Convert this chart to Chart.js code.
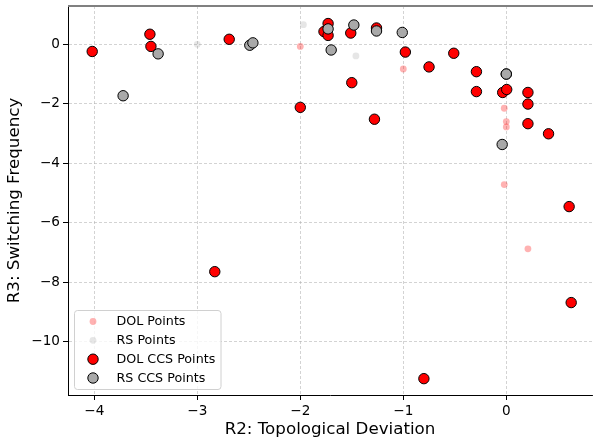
<!DOCTYPE html>
<html>
<head>
<meta charset="utf-8">
<script src="https://cdn.jsdelivr.net/npm/chart.js@4/dist/chart.umd.min.js"></script>
<style>
  html, body { margin: 0; padding: 0; background: #fff; }
  #wrap { width: 593px; height: 441px; }
</style>
</head>
<body>
<div id="wrap"><canvas id="c" width="593" height="441"></canvas></div>
<script>
// ---- data ----
const dolX = [-2.00, -1.00, -0.02, 0.00, 0.00, -0.02, 0.21];
const dolY = [-0.07, -0.83, -2.15, -2.60, -2.78, -4.72, -6.88];

const rsX = [-3.00, -1.97, -1.46];
const rsY = [0.00, 0.66, -0.39];

const dolCcsX = [-4.02, -3.46, -3.45, -2.69, -2.00, -1.73, -1.77, -1.73, -1.51, -1.26,
                 -0.98, -0.75, -1.50, -1.28, -0.51, -0.29, -0.29, -0.035, 0.004, 0.21,
                 0.21, 0.21, 0.41, 0.61, 0.63, -2.83, -0.80];
const dolCcsY = [-0.24, 0.34, -0.07, 0.17, -2.12, 0.70, 0.43, 0.30, 0.38, 0.55,
                 -0.26, -0.76, -1.29, -2.52, -0.30, -0.92, -1.59, -1.62, -1.52, -1.62,
                 -2.01, -2.67, -3.01, -5.46, -8.69, -7.65, -11.25];

const rsCcsX = [-3.72, -3.38, -2.49, -2.46, -1.73, -1.48, -1.26, -1.01, -1.70, 0.00, 0.00, -0.04];
const rsCcsY = [-1.73, -0.32, -0.03, 0.05, 0.52, 0.65, 0.45, 0.40, -0.19, -1.00, -1.00, -3.37];

const xTicks = [-4, -3, -2, -1, 0];
const yTicks = [0, -2, -4, -6, -8, -10];
const xTitle = 'R2: Topological Deviation';
const yTitle = 'R3: Switching Frequency';
const legendLabels = ['DOL Points', 'RS Points', 'DOL CCS Points', 'RS CCS Points'];

// ---- build ----
const pts = (xs, ys) => xs.map((x, i) => ({ x: x, y: ys[i] }));
const FONT = "'DejaVu Sans', sans-serif";
const fmt = v => (v < 0 ? '\u2212' + Math.abs(v) : String(v));

const styles = [
  { bg: 'rgba(255,0,0,0.3)', border: 'rgba(0,0,0,0)', bw: 0, r: 3.4 },
  { bg: 'rgba(128,128,128,0.2)', border: 'rgba(0,0,0,0)', bw: 0, r: 3.4 },
  { bg: '#ff0000', border: '#000000', bw: 1, r: 5.2 },
  { bg: '#a9a9a9', border: '#000000', bw: 1, r: 5.2 }
];

const datasets = [
  { label: legendLabels[0], data: pts(dolX, dolY), order: 4 },
  { label: legendLabels[1], data: pts(rsX, rsY), order: 3 },
  { label: legendLabels[2], data: pts(dolCcsX, dolCcsY), order: 2 },
  { label: legendLabels[3], data: pts(rsCcsX, rsCcsY), order: 1 }
].map((d, i) => Object.assign(d, {
  backgroundColor: styles[i].bg,
  borderColor: styles[i].border,
  borderWidth: styles[i].bw,
  pointRadius: styles[i].r,
  pointHoverRadius: styles[i].r
}));

const framePlugin = {
  id: 'frame',
  afterDraw(chart) {
    const { ctx, chartArea: a } = chart;
    ctx.save();
    ctx.strokeStyle = '#808080';
    ctx.lineWidth = 2;
    ctx.beginPath();
    ctx.moveTo(a.left, a.top);
    ctx.lineTo(a.right + 1, a.top);
    ctx.stroke();
    const lx = 74.5, ly = 310.5, lw = 146.5, lh = 79, rr = 3;
    ctx.beginPath();
    ctx.moveTo(lx + rr, ly);
    ctx.lineTo(lx + lw - rr, ly);
    ctx.quadraticCurveTo(lx + lw, ly, lx + lw, ly + rr);
    ctx.lineTo(lx + lw, ly + lh - rr);
    ctx.quadraticCurveTo(lx + lw, ly + lh, lx + lw - rr, ly + lh);
    ctx.lineTo(lx + rr, ly + lh);
    ctx.quadraticCurveTo(lx, ly + lh, lx, ly + lh - rr);
    ctx.lineTo(lx, ly + rr);
    ctx.quadraticCurveTo(lx, ly, lx + rr, ly);
    ctx.closePath();
    ctx.fillStyle = 'rgba(255,255,255,0.8)';
    ctx.fill();
    ctx.strokeStyle = '#d0d0d0';
    ctx.lineWidth = 1;
    ctx.stroke();
    const rows = [321.5, 340.3, 359.2, 378];
    ctx.font = '12.7px ' + FONT;
    ctx.textBaseline = 'middle';
    ctx.textAlign = 'left';
    chart.data.datasets.forEach((d, i) => {
      const s = styles[i];
      ctx.beginPath();
      ctx.arc(93, rows[i], s.r, 0, Math.PI * 2);
      ctx.fillStyle = s.bg;
      ctx.fill();
      if (s.bw > 0) {
        ctx.strokeStyle = s.border;
        ctx.lineWidth = s.bw;
        ctx.stroke();
      }
      ctx.fillStyle = '#000';
      ctx.fillText(d.label, 116.5, rows[i] + 0.5);
    });
    ctx.restore();
  }
};

const gridCommon = {
  color: 'rgba(176,176,176,0.7)',
  lineWidth: 0.8,
  tickLength: 5,
  tickColor: '#000',
  tickWidth: 1,
  tickBorderDash: []
};

const zeroPad = s => { s.paddingTop = 0; s.paddingBottom = 0; s.paddingLeft = 0; s.paddingRight = 0; };

new Chart(document.getElementById('c'), {
  type: 'scatter',
  data: { datasets: datasets },
  plugins: [framePlugin],
  options: {
    responsive: false,
    animation: false,
    events: [],
    layout: { autoPadding: false, padding: { top: 6, right: 1, left: 0, bottom: 0 } },
    plugins: { legend: { display: false }, tooltip: { enabled: false } },
    scales: {
      x: {
        type: 'linear',
        min: -4.255, max: 0.832,
        afterBuildTicks: s => { s.ticks = xTicks.map(v => ({ value: v })); },
        afterFit: s => { s.height = 46; zeroPad(s); },
        grid: gridCommon,
        border: { display: true, color: '#000', width: 1, dash: [3, 2] },
        ticks: { color: '#000', font: { family: FONT, size: 13.6 }, padding: 3,
                 maxRotation: 0, callback: v => fmt(v) },
        title: { display: true, text: xTitle, color: '#000',
                 font: { family: FONT, size: 16.7 }, padding: { top: 0, bottom: 1 } }
      },
      y: {
        type: 'linear',
        min: -11.8, max: 1.29,
        afterBuildTicks: s => { s.ticks = yTicks.map(v => ({ value: v })); },
        afterFit: s => { s.width = 68; zeroPad(s); },
        grid: gridCommon,
        border: { display: true, color: '#000', width: 1, dash: [3, 2] },
        ticks: { color: '#000', font: { family: FONT, size: 13.6 }, padding: 3,
                 callback: v => fmt(v) },
        title: { display: true, text: yTitle, color: '#000',
                 font: { family: FONT, size: 16.7 }, padding: { top: 5, bottom: 0 } }
      }
    }
  }
});
</script>
</body>
</html>
